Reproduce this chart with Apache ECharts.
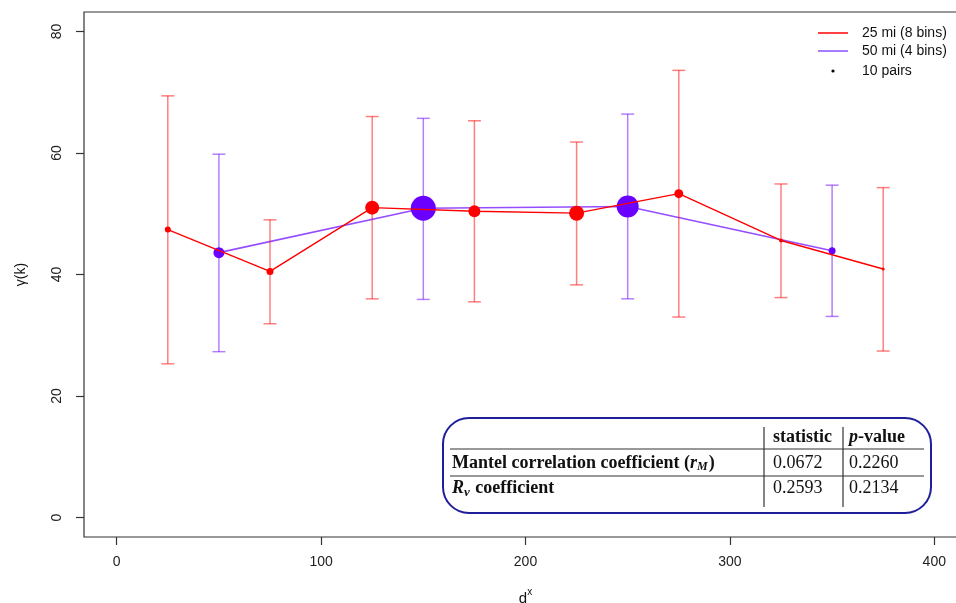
<!DOCTYPE html>
<html>
<head>
<meta charset="utf-8">
<script src="https://cdn.jsdelivr.net/npm/echarts@6/dist/echarts.min.js"></script>
<style>
html, body { margin: 0; padding: 0; background: #fff; }
#chart { width: 956px; height: 603px; }
</style>
</head>
<body>
<div id="chart"></div>
<script>
// 25 mi bins
var redX = [25, 75, 125, 175, 225, 275, 325, 375];
var redMean = [47.4, 40.5, 51.0, 50.4, 50.1, 53.3, 45.6, 40.9];
var redLow = [25.3, 31.9, 36.0, 35.5, 38.3, 33.0, 36.2, 27.4];
var redHigh = [69.4, 49.0, 66.0, 65.3, 61.8, 73.6, 54.9, 54.3];
var redDot = [6, 7, 14, 12, 15, 9, 4, 3];

// 50 mi bins
var purpleX = [50, 150, 250, 350];
var purpleMean = [43.6, 50.9, 51.2, 43.9];
var purpleLow = [27.3, 35.9, 36.0, 33.1];
var purpleHigh = [59.8, 65.7, 66.4, 54.7];
var purpleDot = [11, 25, 22, 7];

var xTicks = [0, 100, 200, 300, 400];
var yTicks = [0, 20, 40, 60, 80];

var legendNames = ["25 mi (8 bins)", "50 mi (4 bins)", "10 pairs"];

var tableHead = ["statistic", "p-value"];
var tableRows = ["Mantel correlation coefficient (r_M)", "R_v coefficient"];
var tableStat = ["0.0672", "0.2593"];
var tablePval = ["0.2260", "0.2134"];

var RED = "#ff0000";
var RED_BAR = "rgba(255,0,0,0.5)";
var PUR = "#6a00ff";
var PUR_LINE = "rgba(106,0,255,0.7)";
var PUR_BAR = "rgba(106,0,255,0.5)";

function pairs(xs, ys){
	var out = [];
	for(var i = 0; i < xs.length; i++){
		out.push([xs[i], ys[i]]);
	}
	return out;
}

function barData(xs, lo, hi){
	var out = [];
	for(var i = 0; i < xs.length; i++){
		out.push([xs[i], lo[i], hi[i]]);
	}
	return out;
}

function errorBars(color){
	return function(params, api){
		var top = api.coord([api.value(0), api.value(2)]);
		var bot = api.coord([api.value(0), api.value(1)]);
		var w = 6.5;
		var st = { stroke: color, lineWidth: 1.5 };
		return {
			type: "group",
			children: [
				{ type: "line", shape: { x1: top[0], y1: top[1], x2: bot[0], y2: bot[1] }, style: st },
				{ type: "line", shape: { x1: top[0] - w, y1: top[1], x2: top[0] + w, y2: top[1] }, style: st },
				{ type: "line", shape: { x1: bot[0] - w, y1: bot[1], x2: bot[0] + w, y2: bot[1] }, style: st }
			]
		};
	};
}

var serif = "'Liberation Serif', 'Times New Roman', serif";
var sans = "'Liberation Sans', Arial, Helvetica, sans-serif";

// table inside rounded box
var tbl = { x: 443, y: 418, w: 488, h: 95 };
var colA = 764, colB = 843;
var graphics = [
	{ type: "rect", shape: { x: tbl.x, y: tbl.y, width: tbl.w, height: tbl.h, r: 26 },
		style: { fill: "#fff", stroke: "#1f1f9a", lineWidth: 2 }, z: 10 },
	{ type: "line", shape: { x1: 450, y1: 449, x2: 924, y2: 449 }, style: { stroke: "#333", lineWidth: 1.2 }, z: 11 },
	{ type: "line", shape: { x1: 450, y1: 476, x2: 924, y2: 476 }, style: { stroke: "#333", lineWidth: 1.2 }, z: 11 },
	{ type: "line", shape: { x1: colA, y1: 427, x2: colA, y2: 507 }, style: { stroke: "#333", lineWidth: 1.2 }, z: 11 },
	{ type: "line", shape: { x1: colB, y1: 427, x2: colB, y2: 507 }, style: { stroke: "#333", lineWidth: 1.2 }, z: 11 },
	{ type: "text", x: 773, y: 437, z: 12, style: { text: tableHead[0], font: "bold 18px " + serif, fill: "#111", verticalAlign: "middle" } },
	{ type: "text", x: 849, y: 437, z: 12, style: {
		text: "{i|p}{b|-value}", verticalAlign: "middle",
		rich: { i: { font: "italic bold 18px " + serif, fill: "#111" }, b: { font: "bold 18px " + serif, fill: "#111" } } } },
	{ type: "text", x: 452, y: 463, z: 12, style: {
		text: "{b|Mantel correlation coefficient (}{i|r}{s|M}{b|)}", verticalAlign: "middle",
		rich: {
			b: { font: "bold 18px " + serif, fill: "#111" },
			i: { font: "italic bold 18px " + serif, fill: "#111" },
			s: { font: "italic bold 12px " + serif, fill: "#111", padding: [8, 1, 0, 0] }
		} } },
	{ type: "text", x: 452, y: 488, z: 12, style: {
		text: "{i|R}{s|v}{b| coefficient}", verticalAlign: "middle",
		rich: {
			b: { font: "bold 18px " + serif, fill: "#111" },
			i: { font: "italic bold 18px " + serif, fill: "#111" },
			s: { font: "italic bold 13px " + serif, fill: "#111", padding: [9, 1, 0, 0] }
		} } },
	{ type: "text", x: 773, y: 463, z: 12, style: { text: tableStat[0], font: "18px " + serif, fill: "#111", verticalAlign: "middle" } },
	{ type: "text", x: 849, y: 463, z: 12, style: { text: tablePval[0], font: "18px " + serif, fill: "#111", verticalAlign: "middle" } },
	{ type: "text", x: 773, y: 488, z: 12, style: { text: tableStat[1], font: "18px " + serif, fill: "#111", verticalAlign: "middle" } },
	{ type: "text", x: 849, y: 488, z: 12, style: { text: tablePval[1], font: "18px " + serif, fill: "#111", verticalAlign: "middle" } },
	// legend
	{ type: "line", shape: { x1: 818, y1: 33, x2: 848, y2: 33 }, style: { stroke: RED, lineWidth: 1.5 } },
	{ type: "line", shape: { x1: 818, y1: 51, x2: 848, y2: 51 }, style: { stroke: "#8a50ff", lineWidth: 1.5 } },
	{ type: "circle", shape: { cx: 833, cy: 71, r: 1.6 }, style: { fill: "#000" } },
	{ type: "text", x: 862, y: 33, style: { text: legendNames[0], font: "14px " + sans, fill: "#111", verticalAlign: "middle" } },
	{ type: "text", x: 862, y: 51, style: { text: legendNames[1], font: "14px " + sans, fill: "#111", verticalAlign: "middle" } },
	{ type: "text", x: 862, y: 71, style: { text: legendNames[2], font: "14px " + sans, fill: "#111", verticalAlign: "middle" } }
];

var chart = echarts.init(document.getElementById("chart"));
chart.setOption({
	animation: false,
	backgroundColor: "#fff",
	grid: { left: 84, right: -11, top: 12, bottom: 66, outerBoundsMode: "none", containLabel: false,
		show: true, borderColor: "#333", borderWidth: 1.2, backgroundColor: "transparent" },
	xAxis: {
		type: "value", min: -16, max: 416,
		name: "d{s|x}", nameLocation: "middle", nameGap: 50,
		nameTextStyle: { fontFamily: sans, fontSize: 15, color: "#111",
			rich: { s: { fontFamily: sans, fontSize: 10, color: "#111", padding: [0, 0, 14, 0] } } },
		axisLine: { show: false, onZero: false },
		axisTick: { show: true, length: 8, customValues: xTicks, lineStyle: { color: "#333", width: 1.2 } },
		axisLabel: { customValues: xTicks, margin: 18, fontFamily: sans, fontSize: 14, color: "#222" },
		splitLine: { show: false }
	},
	yAxis: {
		type: "value", min: -3.2, max: 83.2,
		name: "γ(k)", nameLocation: "middle", nameGap: 56, nameRotate: 90,
		nameTextStyle: { fontFamily: sans, fontSize: 14, color: "#111" },
		axisLine: { show: false, onZero: false },
		axisTick: { show: true, length: 8, customValues: yTicks, lineStyle: { color: "#333", width: 1.2 } },
		axisLabel: { customValues: yTicks, rotate: 90, margin: 20, fontFamily: sans, fontSize: 14, color: "#222" },
		splitLine: { show: false }
	},
	graphic: graphics,
	series: [
		{
			type: "custom", renderItem: errorBars(PUR_BAR), data: barData(purpleX, purpleLow, purpleHigh),
			encode: { x: 0, y: [1, 2] }, z: 2, silent: true
		},
		{
			type: "line", data: pairs(purpleX, purpleMean), z: 3,
			lineStyle: { color: PUR_LINE, width: 1.6 },
			itemStyle: { color: PUR },
			symbol: "circle",
			symbolSize: function(v, p){ return purpleDot[p.dataIndex]; }
		},
		{
			type: "custom", renderItem: errorBars(RED_BAR), data: barData(redX, redLow, redHigh),
			encode: { x: 0, y: [1, 2] }, z: 4, silent: true
		},
		{
			type: "line", data: pairs(redX, redMean), z: 5,
			lineStyle: { color: RED, width: 1.4 },
			itemStyle: { color: RED },
			symbol: "circle",
			symbolSize: function(v, p){ return redDot[p.dataIndex]; }
		}
	]
});
</script>
</body>
</html>
